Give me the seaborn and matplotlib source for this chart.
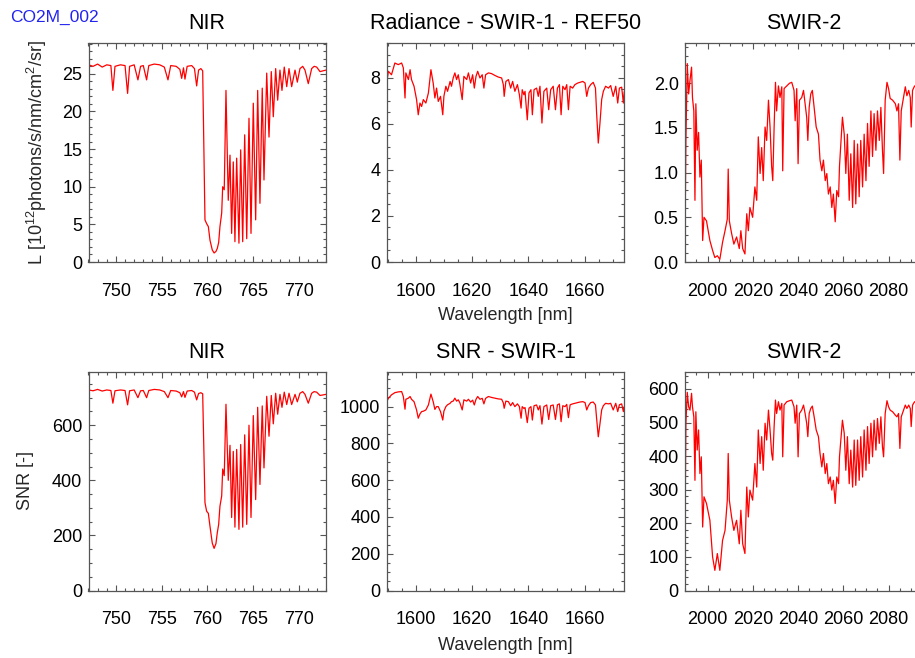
import matplotlib
matplotlib.use("Agg")
import matplotlib.pyplot as plt
from matplotlib.ticker import MultipleLocator
import pandas as pd
import seaborn as sns

# ---------------------------------------------------------------- NIR band
nir_wavelength = [
    747.0, 747.5, 748.0, 748.5, 749.0, 749.45, 749.67, 749.9, 750.5, 751.0,
    751.28, 751.5, 752.0, 752.41, 752.7, 753.0, 753.36, 753.6, 754.2, 754.8,
    755.3, 755.70, 756.0, 756.6, 757.0, 757.20, 757.4, 757.56, 757.8, 758.3,
    758.6, 758.84, 759.05, 759.3, 759.5, 759.75, 759.93, 760.12, 760.30, 760.55,
    760.75, 760.95, 761.10, 761.25, 761.39, 761.58, 761.69, 761.86, 762.05, 762.30,
    762.49, 762.67, 762.85, 763.03, 763.22, 763.47, 763.66, 763.88, 764.10, 764.32,
    764.57, 764.79, 765.04, 765.30, 765.52, 765.77, 766.02, 766.21, 766.51, 766.76,
    767.01, 767.23, 767.49, 767.71, 767.96, 768.18, 768.43, 768.70, 768.95, 769.24,
    769.61, 769.86, 770.15, 770.45, 770.70, 771.06, 771.43, 771.70, 771.98, 772.34,
    773.0,
]
nir_radiance = [
    26.2, 26.0, 26.3, 25.9, 26.2, 26.1, 22.8, 26.0, 26.2, 26.1,
    22.4, 26.0, 26.2, 24.2, 26.0, 26.1, 24.2, 26.1, 26.3, 26.2,
    25.9, 24.2, 26.1, 26.0, 25.6, 24.4, 25.8, 24.3, 26.0, 26.1,
    25.7, 23.4, 25.5, 25.7, 25.4, 5.6, 5.1, 4.7, 2.9, 1.6,
    1.2, 1.4, 1.8, 2.6, 4.7, 6.5, 10.0, 9.6, 22.8, 8.2,
    14.2, 3.8, 13.3, 2.7, 13.8, 2.5, 14.9, 2.7, 16.9, 3.1,
    19.1, 3.8, 21.1, 5.6, 22.8, 7.8, 23.1, 10.9, 25.1, 16.6,
    25.3, 19.3, 25.7, 21.5, 25.5, 22.8, 25.9, 23.3, 25.7, 23.3,
    25.5, 23.9, 25.7, 26.0, 25.5, 23.7, 25.7, 26.0, 25.9, 25.3,
    25.5,
]
nir_snr = [
    728, 725, 730, 724, 728, 726, 680, 725, 728, 726,
    674, 725, 728, 700, 725, 726, 700, 726, 730, 728,
    722, 700, 726, 724, 718, 703, 722, 701, 724, 726,
    720, 692, 715, 718, 714, 319, 288, 280, 233, 172,
    153, 170, 210, 240, 306, 343, 441, 417, 676, 400,
    527, 265, 505, 230, 512, 222, 530, 230, 565, 240,
    600, 265, 635, 330, 665, 385, 670, 445, 705, 560,
    708, 605, 716, 640, 712, 665, 720, 675, 716, 675,
    712, 685, 716, 722, 712, 680, 716, 722, 720, 708,
    712,
]

# ---------------------------------------------------------------- SWIR-1 band
swir1_wavelength = [
    1589.7, 1590.3, 1591.4, 1592.6, 1593.8, 1595.0, 1595.6, 1596.2, 1596.5, 1597.4,
    1598.0, 1598.5, 1599.4, 1600.3, 1600.9, 1601.5, 1602.1, 1602.7, 1603.6, 1604.5,
    1605.4, 1606.2, 1606.8, 1607.4, 1608.0, 1608.8, 1609.6, 1610.0, 1610.7, 1611.3,
    1612.2, 1612.7, 1613.3, 1613.9, 1614.5, 1615.1, 1615.7, 1616.5, 1617.1, 1618.1,
    1618.7, 1619.5, 1620.2, 1620.8, 1621.4, 1622.0, 1622.8, 1623.6, 1624.2, 1624.8,
    1625.8, 1626.9, 1628.1, 1629.3, 1630.5, 1631.1, 1631.4, 1632.0, 1632.9, 1633.7,
    1634.4, 1635.2, 1636.1, 1636.8, 1637.4, 1637.8, 1638.4, 1638.8, 1639.6, 1640.2,
    1640.9, 1641.4, 1642.0, 1642.9, 1643.5, 1644.1, 1644.8, 1645.5, 1646.5, 1647.2,
    1647.9, 1648.8, 1649.6, 1650.3, 1651.0, 1651.6, 1652.2, 1653.0, 1653.6, 1654.2,
    1654.8, 1655.7, 1656.5, 1657.5, 1658.3, 1659.3, 1660.1, 1660.7, 1661.3, 1662.1,
    1663.0, 1663.8, 1664.2, 1664.8, 1665.4, 1666.0, 1666.6, 1667.4, 1668.4, 1669.2,
    1670.1, 1671.0, 1671.7, 1672.3, 1673.1, 1673.7, 1674.0,
]
swir1_radiance = [
    7.78, 8.29, 8.14, 8.65, 8.58, 8.65, 8.44, 7.13, 8.22, 7.93,
    8.36, 7.93, 7.64, 7.06, 6.40, 6.91, 6.76, 7.06, 6.91, 7.35,
    8.36, 7.78, 7.13, 7.56, 6.98, 7.20, 6.40, 7.20, 7.64, 7.42,
    7.85, 7.64, 8.00, 8.22, 7.93, 8.14, 7.71, 7.06, 8.07, 7.93,
    8.22, 7.78, 8.14, 7.56, 8.07, 8.29, 8.00, 8.14, 7.56, 8.14,
    8.22, 8.19, 8.11, 8.04, 8.00, 7.71, 7.20, 7.85, 7.93, 7.56,
    7.85, 7.42, 7.71, 7.27, 6.69, 7.49, 7.27, 7.42, 6.18, 7.35,
    7.49, 6.40, 7.49, 7.56, 7.20, 7.64, 6.04, 7.42, 7.56, 6.62,
    7.49, 7.64, 6.62, 7.56, 7.71, 6.40, 7.64, 7.49, 7.71, 6.62,
    7.64, 7.56, 7.71, 7.78, 7.81, 7.85, 7.78, 7.20, 7.56, 7.71,
    7.81, 7.56, 6.49, 5.17, 6.04, 7.06, 7.42, 7.64, 7.56, 7.67,
    7.20, 7.64, 6.91, 7.56, 7.60, 6.91, 7.40,
]
swir1_snr = [
    1027, 1045, 1064, 1076, 1080, 1082, 1055, 986, 1040, 1046,
    1055, 1040, 1027, 982, 937, 960, 973, 975, 982, 1009,
    1068, 1027, 985, 1000, 1000, 973, 927, 975, 1000, 1010,
    1018, 1027, 1030, 1046, 1030, 1037, 1020, 982, 1037, 1030,
    1040, 1025, 1035, 1009, 1040, 1055, 1040, 1045, 1015, 1045,
    1055, 1050, 1046, 1042, 1040, 1020, 991, 1030, 1027, 1005,
    1022, 1000, 1015, 1000, 937, 1000, 990, 995, 913, 991,
    1000, 927, 1005, 1009, 982, 1005, 905, 1000, 1009, 930,
    1005, 1009, 930, 1010, 1015, 918, 1005, 1000, 1012, 940,
    1010, 1015, 1018, 1022, 1025, 1027, 1022, 982, 1005, 1022,
    1025, 1009, 937, 836, 907, 982, 1005, 1018, 1015, 1018,
    982, 1018, 973, 1010, 1015, 973, 1000,
]

# ---------------------------------------------------------------- SWIR-2 band
swir2_wavelength = [
    1990.0, 1990.4, 1991.0, 1991.6, 1992.2, 1992.9, 1993.3, 1993.9, 1994.4, 1994.8,
    1995.4, 1996.0, 1996.6, 1997.2, 1997.8, 1998.4, 1999.5, 2001.0, 2002.2, 2003.2,
    2004.3, 2005.4, 2006.6, 2007.7, 2008.7, 2009.1, 2009.6, 2010.6, 2011.6, 2012.8,
    2014.0, 2014.7, 2015.5, 2016.5, 2017.3, 2018.0, 2018.7, 2019.9, 2020.9, 2021.7,
    2022.4, 2023.2, 2023.9, 2024.6, 2025.4, 2026.1, 2026.9, 2027.6, 2028.3, 2028.8,
    2029.4, 2030.0, 2030.5, 2031.3, 2032.0, 2032.8, 2033.2, 2033.8, 2035.0, 2036.2,
    2037.2, 2038.2, 2038.7, 2039.4, 2040.0, 2040.6, 2041.6, 2042.4, 2043.1, 2043.8,
    2044.3, 2044.9, 2045.6, 2046.3, 2047.1, 2048.0, 2049.0, 2049.7, 2050.5, 2051.2,
    2052.0, 2052.7, 2053.4, 2054.2, 2054.9, 2055.6, 2056.4, 2057.1, 2057.9, 2058.3,
    2058.9, 2059.6, 2060.4, 2061.1, 2061.8, 2062.6, 2063.3, 2064.1, 2064.8, 2065.5,
    2066.3, 2067.0, 2067.7, 2068.5, 2069.2, 2070.0, 2070.7, 2071.4, 2072.2, 2072.9,
    2073.6, 2074.4, 2075.1, 2075.9, 2076.6, 2077.3, 2077.8, 2078.5, 2079.3, 2080.0,
    2080.7, 2081.8, 2083.0, 2083.7, 2084.4, 2085.0, 2085.6, 2086.6, 2087.4, 2088.1,
    2088.9, 2089.6, 2090.0, 2090.6, 2091.5, 2093.0, 2095.0,
]
swir2_radiance = [
    0.28, 1.36, 2.22, 1.88, 2.03, 2.18, 1.84, 1.69, 0.69, 1.77,
    1.25, 1.45, 0.95, 1.14, 0.24, 0.50, 0.46, 0.24, 0.13, 0.05,
    0.07, 0.03, 0.22, 0.35, 0.48, 1.04, 0.46, 0.32, 0.20, 0.28,
    0.15, 0.35, 0.15, 0.09, 0.54, 0.35, 0.61, 0.50, 0.84, 0.69,
    1.40, 0.99, 1.28, 0.91, 1.51, 1.36, 1.81, 1.51, 1.07, 0.91,
    1.51, 2.01, 1.69, 1.97, 1.84, 1.96, 1.02, 1.94, 1.97, 2.00,
    2.01, 1.92, 1.58, 1.94, 1.10, 1.81, 1.84, 1.92, 1.77, 1.62,
    1.36, 1.73, 1.88, 1.92, 1.73, 1.51, 1.43, 1.14, 1.02, 1.14,
    0.91, 0.99, 0.76, 0.84, 0.61, 0.76, 0.45, 0.80, 0.73, 1.07,
    1.32, 1.62, 1.43, 0.99, 1.43, 0.69, 1.21, 0.61, 1.36, 0.65,
    1.32, 0.73, 1.36, 0.84, 1.43, 0.91, 1.55, 1.07, 1.69, 1.18,
    1.66, 1.25, 1.69, 1.36, 1.73, 1.25, 0.99, 1.81, 2.01, 1.94,
    1.83, 1.81, 1.77, 1.69, 1.77, 1.14, 1.69, 1.84, 1.96, 1.86,
    1.92, 1.84, 1.51, 1.92, 1.97, 1.93, 1.90,
]
swir2_snr = [
    190, 498, 590, 547, 537, 587, 547, 517, 328, 532,
    418, 478, 348, 398, 189, 279, 259, 209, 100, 60,
    110, 60, 149, 179, 269, 408, 269, 219, 179, 209,
    139, 239, 139, 110, 308, 219, 299, 269, 378, 308,
    478, 378, 458, 358, 498, 448, 537, 478, 408, 388,
    488, 567, 527, 562, 537, 557, 398, 552, 562, 565,
    567, 547, 498, 552, 398, 527, 537, 552, 527, 498,
    458, 527, 542, 549, 517, 478, 458, 408, 368, 408,
    348, 378, 318, 338, 299, 328, 259, 338, 318, 398,
    448, 507, 468, 358, 458, 318, 418, 308, 448, 313,
    448, 328, 458, 338, 478, 358, 488, 378, 498, 398,
    507, 418, 512, 438, 517, 428, 398, 527, 565, 547,
    537, 532, 522, 517, 527, 423, 517, 537, 552, 542,
    552, 542, 488, 552, 562, 555, 550,
]

top_titles = ["NIR", "Radiance - SWIR-1 - REF50", "SWIR-2"]
bottom_titles = ["NIR", "SNR - SWIR-1", "SWIR-2"]

# ---------------------------------------------------------------- styling
sns.set_theme(style="ticks")
plt.rcParams["font.family"] = ["Liberation Sans", "DejaVu Sans"]
plt.rcParams["mathtext.fontset"] = "custom"
plt.rcParams["mathtext.rm"] = "Liberation Sans"
plt.rcParams["mathtext.it"] = "Liberation Sans"

FIG_W, FIG_H = 915, 658
fig = plt.figure(figsize=(FIG_W / 100, FIG_H / 100), dpi=100)


def px_axes(left, top, width, height):
    return fig.add_axes([left / FIG_W, 1 - (top + height) / FIG_H,
                         width / FIG_W, height / FIG_H])


lefts = [88.5, 386.7, 685.0]
panel_w, panel_h = 237.5, 219.0
tops = [43.0, 371.5]

bands = [
    (nir_wavelength, nir_radiance, nir_snr, (747.0, 773.0), 5, 1),
    (swir1_wavelength, swir1_radiance, swir1_snr, (1589.7, 1674.0), 20, 5),
    (swir2_wavelength, swir2_radiance, swir2_snr, (1990.0, 2095.0), 20, 5),
]
top_ylims = [(0, 29.1), (0, 9.52), (0, 2.45)]
top_ysteps = [(5, 1), (2, 0.5), (0.5, 0.1)]
bottom_ylims = [(0, 795), (0, 1191), (0, 652)]
bottom_ysteps = [(200, 50), (200, 50), (100, 20)]

line_color = "#ff0000"
frame_color = "#555555"


def style_axes(ax, xlim, xmaj, xmin, ylim, ymaj, ymin):
    ax.set_xlim(*xlim)
    ax.set_ylim(*ylim)
    ax.xaxis.set_major_locator(MultipleLocator(xmaj))
    ax.xaxis.set_minor_locator(MultipleLocator(xmin))
    ax.yaxis.set_major_locator(MultipleLocator(ymaj))
    ax.yaxis.set_minor_locator(MultipleLocator(ymin))
    ax.tick_params(which="both", direction="in", top=True, right=True,
                   color=frame_color, labelcolor="black", width=0.8,
                   labelsize=13)
    ax.tick_params(which="major", length=4.5)
    ax.tick_params(which="minor", length=2.2)
    ax.tick_params(axis="x", which="major", pad=15)
    ax.tick_params(axis="y", which="major", pad=4.5)
    for sp in ax.spines.values():
        sp.set_color(frame_color)
        sp.set_linewidth(0.9)
    ax.set_xlabel("")
    ax.set_ylabel("")
    ax.grid(False)


for row, (top, titles, ylims, ysteps) in enumerate(
        [(tops[0], top_titles, top_ylims, top_ysteps),
         (tops[1], bottom_titles, bottom_ylims, bottom_ysteps)]):
    for col, (wl, rad, snr, xlim, xmaj, xmin) in enumerate(bands):
        ax = px_axes(lefts[col], top, panel_w, panel_h)
        values = rad if row == 0 else snr
        df = pd.DataFrame({"wavelength": wl, "value": values})
        sns.lineplot(data=df, x="wavelength", y="value", ax=ax,
                     color=line_color, linewidth=0.9, sort=False,
                     estimator=None)
        style_axes(ax, xlim, xmaj, xmin, ylims[col], *ysteps[col])
        ax.set_title(titles[col], fontsize=15.5, pad=10, color="black")

# axis titles and run label
fig.text(505.5 / FIG_W, 1 - 316 / FIG_H, "Wavelength [nm]", ha="center",
         va="center", fontsize=13)
fig.text(505.5 / FIG_W, 1 - 646 / FIG_H, "Wavelength [nm]", ha="center",
         va="center", fontsize=13)
fig.text(37 / FIG_W, 1 - 152.5 / FIG_H,
         r"L [10$^{12}$photons/s/nm/cm$^{2}$/sr]", ha="center", va="center",
         rotation=90, fontsize=13)
fig.text(26 / FIG_W, 1 - 481 / FIG_H, "SNR [-]", ha="center", va="center",
         rotation=90, fontsize=13)
fig.text(10 / FIG_W, 1 - 17 / FIG_H, "CO2M_002", ha="left", va="center",
         fontsize=12.5, color="#2323f0")

fig.savefig("out.png", dpi=100)
